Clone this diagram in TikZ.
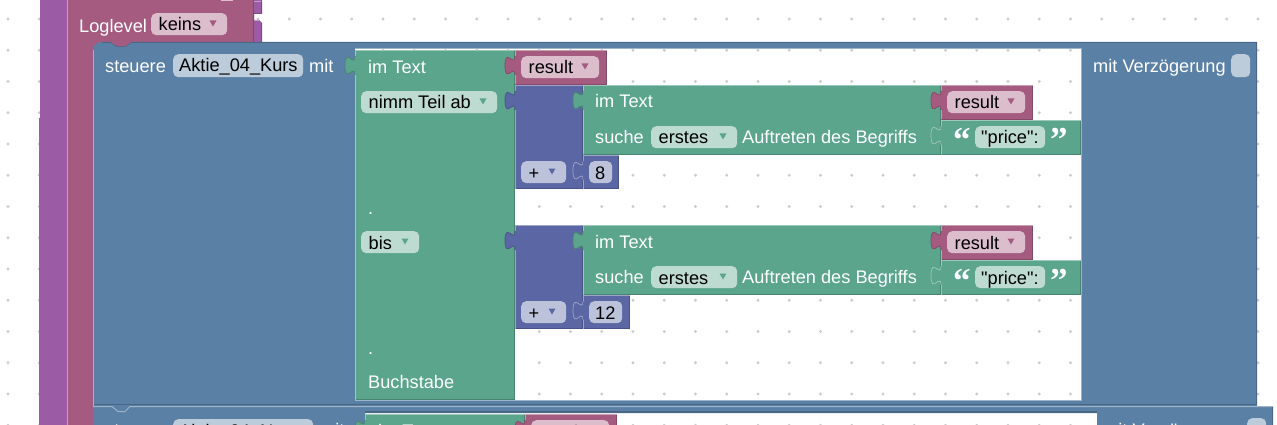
\documentclass[tikz,border=0pt]{standalone}
\usepackage{fontspec}
\setmainfont{Liberation Sans}
\newfontfamily\plainf{Liberation Sans}
\newfontfamily\qfont{Liberation Serif}
\definecolor{cPurple}{HTML}{9B5BA5}
\definecolor{cPurpleL}{HTML}{C39DC9}
\definecolor{cPurpleD}{HTML}{7C4984}
\definecolor{cMaroon}{HTML}{A55B80}
\definecolor{cMaroonL}{HTML}{C99DB3}
\definecolor{cMaroonD}{HTML}{844966}
\definecolor{cMaroonF}{HTML}{DBBDCC}
\definecolor{cBlue}{HTML}{5B80A5}
\definecolor{cBlueL}{HTML}{9DB3C9}
\definecolor{cBlueD}{HTML}{496684}
\definecolor{cBlueF}{HTML}{BDCCDB}
\definecolor{cGreen}{HTML}{5BA58C}
\definecolor{cGreenL}{HTML}{9DC9BA}
\definecolor{cGreenD}{HTML}{498470}
\definecolor{cGreenF}{HTML}{BDDBD1}
\definecolor{cMath}{HTML}{5B67A5}
\definecolor{cMathL}{HTML}{9DA4C9}
\definecolor{cMathD}{HTML}{495284}
\definecolor{cMathF}{HTML}{BDC2DB}
\tikzset{
  x=1pt,y=-1pt,
  lbl/.style={inner sep=0pt,anchor=base west,text=white,font=\plainf\fontsize{18.2}{20}\selectfont},
  val/.style={inner sep=0pt,anchor=base west,text=black,font=\plainf\fontsize{18.2}{20}\selectfont},
  quot/.style={inner sep=0pt,anchor=base west,text=white,font=\qfont\bfseries\fontsize{35}{36}\selectfont},
  fieldbox/.style={inner sep=0pt,rounded corners=5pt,anchor=north west},
  griddot/.style={fill=black!20,draw=none},
}
% block: x1 y1 x2 y2 colourstem
\newcommand{\blk}[5]{%
  \fill[#5] (#1,#2) rectangle (#3,#4);
  \draw[#5D,line width=1pt] (#3-.5,#2+.5) -- (#3-.5,#4-.5) -- (#1+.5,#4-.5);
  \draw[#5L,line width=1pt] (#1+.5,#4-.5) -- (#1+.5,#2+.5) -- (#3-.5,#2+.5);
}
% puzzle tab (Blockly outline): x of the edge, y of the row top, colour
\newcommand{\tabo}[3]{%
  \fill[#3] (#1+1.5,#2+6) -- (#1,#2+6)
    .. controls (#1,#2+18.5) and (#1-10,#2-3.5) .. (#1-10,#2+15.6)
    .. controls (#1-10,#2+35) and (#1,#2+12.5) .. (#1,#2+25)
    -- (#1+1.5,#2+25) -- cycle;
  \draw[#3D,line width=.7pt] (#1,#2+6)
    .. controls (#1,#2+18.5) and (#1-10,#2-3.5) .. (#1-10,#2+15.6)
    .. controls (#1-10,#2+35) and (#1,#2+12.5) .. (#1,#2+25);
  \draw[#3,line width=1.2pt] (#1+.6,#2+7.5) -- (#1+.6,#2+24);
}
% tab lying on a block of the same colour: outline only
\newcommand{\taboff}[3]{%
  \fill[#3] (#1+1.5,#2+6) -- (#1,#2+6)
    .. controls (#1,#2+18.5) and (#1-10,#2-3.5) .. (#1-10,#2+15.6)
    .. controls (#1-10,#2+35) and (#1,#2+12.5) .. (#1,#2+25)
    -- (#1+1.5,#2+25) -- cycle;
  \draw[#3L,line width=.7pt] (#1,#2+6)
    .. controls (#1,#2+18.5) and (#1-10,#2-3.5) .. (#1-10,#2+15.6)
    .. controls (#1-10,#2+35) and (#1,#2+12.5) .. (#1,#2+25);
  \draw[#3,line width=1.2pt] (#1+.6,#2+7.5) -- (#1+.6,#2+24);
}
% field name x y w h fill text arrowcolour
\newcommand{\fld}[8]{%
  \node[fieldbox,fill=#6,minimum width=#4pt,minimum height=#5pt] (#1) at (#2,#3) {};
  \node[val] (#1t) at (#2+7.5,#3+18) {#7};
  \fill[#8] (#2+#4-17.5,#3+7.5) -- (#2+#4-10.5,#3+7.5) -- (#2+#4-14,#3+13.5) -- cycle;
}
\newcommand{\fldn}[7]{%
  \node[fieldbox,fill=#6,minimum width=#4pt,minimum height=#5pt] (#1) at (#2,#3) {};
  \node[val] (#1t) at (#2+6,#3+18) {#7};
}
\newcommand{\substr}[5]{% prefix, y of top, last value, last-width, last-field-width
  \blk{515}{#2}{583}{#2+104}{cMath}
  \tabo{515}{#2}{cMath}
  \blk{583}{#2}{941}{#2+70}{cGreen}
  \tabo{583}{#2}{cGreen}
  \node[lbl] (#1a) at (595,#2+23) {im Text};
  \node[lbl] (#1b) at (595,#2+58) {suche};
  \fld{#1c}{651}{#2+41}{86}{22}{cGreenF}{erstes}{cGreen}
  \node[lbl] (#1d) at (742,#2+58) {Auftreten des Begriffs};
  \blk{941}{#2}{1033}{#2+35}{cMaroon}
  \tabo{941}{#2}{cMaroon}
  \fld{#1e}{947}{#2+6}{78}{22}{cMaroonF}{result}{cMaroon}
  \blk{941}{#2+35}{1081}{#2+70}{cGreen}
  \taboff{941}{#2+35}{cGreen}
  \node[quot] (#1q) at (953,#2+67) {“};
  \fldn{#1f}{975}{#2+41}{70}{22}{cGreenF}{"price":}
  \node[quot] (#1r) at (1050,#2+67) {”};
  \fld{#1g}{521}{#2+76}{45}{22}{cMathF}{+}{cMath}
  \blk{583}{#2+70}{#4}{#2+104}{cMath}
  \taboff{583}{#2+70}{cMath}
  \fldn{#1h}{589}{#2+76}{#5}{22}{cMathF}{#3}
}
\begin{document}
\begin{tikzpicture}
\useasboundingbox (0,0) rectangle (1277,425);
\clip (0,0) rectangle (1277,425);
\fill[white] (0,0) rectangle (1277,425);
% dotted workspace grid
\foreach \i in {0,...,41}{\foreach \j in {0,...,13}{
  \fill[griddot] (8+\i*31.25,19+\j*31.25) circle (1.6pt);
}}
% outer purple block
\fill[cPurple] (40,-2) -- (262,-2) -- (262,14) -- (254,14) -- (254,20) -- (259,20) -- (262,23) -- (262,43) -- (67,43) -- (67,425) -- (39,425) -- (39,118) -- (40,118) -- cycle;
\draw[cPurpleL,line width=.8pt] (254,1.5) -- (261.5,1.5);
\draw[cPurpleD,line width=.8pt] (261.5,1.5) -- (261.5,13.5) -- (254,13.5);
\draw[cPurpleL,line width=.8pt] (254,20) -- (259,20);
\draw[cPurpleD,line width=.8pt] (261.5,23) -- (261.5,43);
% maroon block
\fill[cMaroon] (67,-2) -- (254,-2) -- (254,43) -- (108,43) -- (108,54) -- (93,54) -- (93,425) -- (67,425) -- cycle;
\draw[cMaroonL,line width=1pt] (67.5,-2) -- (67.5,425);
\draw[cMaroonD,line width=.8pt] (253.5,-2) -- (253.5,43);
\fill[cMaroonF] (221,-4) rectangle (233,1);
\node[lbl] (loglevel) at (79,33) {Loglevel};
\fld{loglevelval}{151}{13}{76}{22}{cMaroonF}{keins}{cMaroon}
% first blue block
\path[fill=cBlue,even odd rule] (93,425) -- (93,50) .. controls (93,45) and (97,42) .. (102,42) -- (1257,42) -- (1257,406) -- (93,406) -- cycle
  (355,49) rectangle (1081,400);
\fill[cMaroon] (110,41.5) -- (117,46.7) -- (125,46.7) -- (132,41.5) -- cycle;
\draw[cBlueD,line width=.5pt] (110,42.2) -- (117,46.7) -- (125,46.7) -- (132,42.2);
\draw[cBlueD,line width=1pt] (102,42.7) -- (110,42.7) (132,42.7) -- (1256.5,42.7) -- (1256.5,405);
\draw[cBlueL,line width=1pt] (93.5,425) -- (93.5,50);
\draw[cBlueL,line width=1pt] (355,49) -- (1081,49) -- (1081,400) -- (355,400);
% nested block column
\blk{355}{50}{515}{400}{cGreen}
\tabo{355}{50}{cGreen}
\node[lbl] (imtext) at (368,73.5) {im Text};
\fld{nimm}{361}{91}{136}{22}{cGreenF}{nimm Teil ab}{cGreen}
\node[lbl] (dotone) at (368,214) {.};
\fld{bis}{361}{231}{58}{22}{cGreenF}{bis}{cGreen}
\node[lbl] (dottwo) at (368,354) {.};
\node[lbl] (buchstabe) at (368,388) {Buchstabe};
\blk{515}{50}{607}{85}{cMaroon}
\tabo{515}{50}{cMaroon}
\fld{result}{521}{56}{78}{22}{cMaroonF}{result}{cMaroon}
\substr{p}{85}{8}{619}{23}
\substr{q}{225}{12}{630}{33}
% first block header
\node[lbl] (steuere) at (105,73) {steuere};
\fldn{aktie}{173}{54}{130}{23}{cBlueF}{Aktie\_04\_Kurs}
\node[lbl] (mit) at (309,73) {mit};
\node[lbl] (verz) at (1093,73) {mit Verzögerung};
\node[fieldbox,fill=cBlueF,minimum width=19pt,minimum height=23pt] (delay) at (1231,54) {};
% second blue block
\path[fill=cBlue,even odd rule] (93,406) -- (1273,406) -- (1273,430) -- (93,430) -- cycle
  (365,413) rectangle (1097,430);
\draw[cBlueD,line width=1pt] (94,404.7) -- (1256.5,404.7);
\draw[cBlueL,line width=1pt] (93,406.5) -- (112,406.5) -- (118,411.5) -- (125,411.5) -- (130,406.5) -- (1273,406.5);
\draw[cBlueD,line width=1pt] (1272.5,407) -- (1272.5,425);
\draw[cBlueD,line width=1.6pt] (365,411.8) -- (1097,411.8);
\blk{365}{414}{525}{430}{cGreen}
\tabo{365}{414}{cGreen}
\blk{525}{414}{617}{430}{cMaroon}
\tabo{525}{414}{cMaroon}
\fld{resultb}{531}{420}{78}{22}{cMaroonF}{result}{cMaroon}
\node[lbl] (imtextb) at (378,437.5) {im Text};
\node[lbl] (steuereb) at (105,436.5) {steuere};
\fldn{aktieb}{173}{419}{140}{23}{cBlueF}{Aktie\_04\_Name}
\node[lbl] (mitb) at (320,436.5) {mit};
\node[lbl] (verzb) at (1103,436.5) {mit Verzögerung};
\node[fieldbox,fill=cBlueF,minimum width=19pt,minimum height=23pt] (delayb) at (1247,418) {};
\end{tikzpicture}
\end{document}
